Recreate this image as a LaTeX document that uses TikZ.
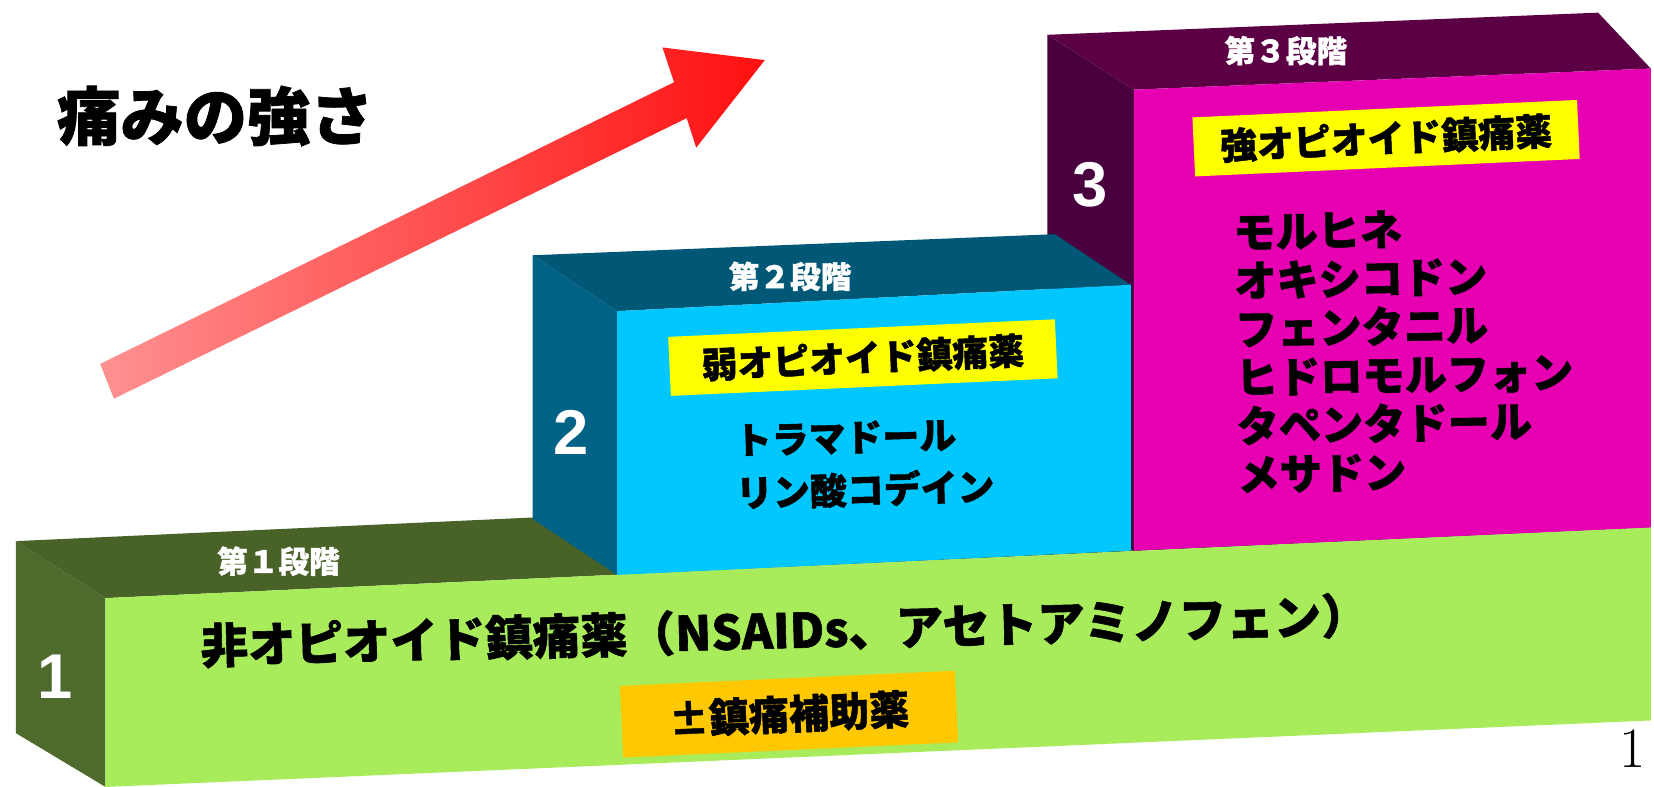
\documentclass[tikz,border=0pt]{standalone}
\usepackage{fontspec}
\newfontfamily\jp{Noto Sans CJK JP}[BoldFeatures={FakeBold=1.2}]
\newfontfamily\lsans{Liberation Sans}
\definecolor{gtop}{RGB}{72,98,40}
\definecolor{gside}{RGB}{78,106,44}
\definecolor{gfront}{RGB}{168,236,92}
\definecolor{btop}{RGB}{0,88,118}
\definecolor{bside}{RGB}{0,98,132}
\definecolor{bfront}{RGB}{0,200,255}
\definecolor{mtop}{RGB}{92,0,70}
\definecolor{mside}{RGB}{72,0,62}
\definecolor{mfront}{RGB}{230,0,178}
\definecolor{yel}{RGB}{255,255,0}
\definecolor{org}{RGB}{255,200,0}
\definecolor{arlight}{RGB}{255,145,145}
\definecolor{ardark}{RGB}{255,15,15}
\tikzset{
  toplab/.style={inner sep=0pt,text=white,font=\jp\bfseries\fontsize{29}{32}\selectfont},
  bignum/.style={inner sep=0pt,text=white,font=\lsans\bfseries\fontsize{60}{64}\selectfont},
  labbox/.style={inner sep=0pt,rotate=2.6,minimum height=56pt,font=\jp\bfseries\fontsize{34}{38}\selectfont},
  druglist/.style={inner sep=0pt,anchor=west,align=left,rotate=1.5,font=\jp\bfseries\fontsize{35}{50}\selectfont},
  druglistl/.style={inner sep=0pt,anchor=west,align=left,rotate=1,font=\jp\bfseries\fontsize{40}{46}\selectfont},
  mainlab/.style={inner sep=0pt,anchor=west,rotate=1.5,font=\jp\bfseries\fontsize{45}{48}\selectfont},
}
\begin{document}
\begin{tikzpicture}[x=1pt,y=-1pt]
\useasboundingbox (0,0) rectangle (1568,746);
\fill[white] (0,0) rectangle (1568,746);
% title
\node[inner sep=0pt,anchor=west,font=\jp\bfseries\fontsize{60}{62}\selectfont] (title) at (54,110) {痛みの強さ};
% arrow
\shade[left color=arlight,right color=ardark] (95,345) -- (639,78) -- (628,45) -- (725,57) -- (660,140) -- (651,112) -- (108,378) -- cycle;
% step 1
\fill[gside] (15,513) -- (100,567) -- (100,746) -- (15,695) -- cycle;
\fill[gtop] (15,513) -- (1480,446) -- (1565,500) -- (100,567) -- cycle;
\fill[gfront] (100,567) -- (1565,500) -- (1565,683) -- (100,746) -- cycle;
% step 3
\fill[mside] (993,33) -- (1075,85) -- (1075,522) -- (993,470) -- cycle;
\fill[mtop] (993,33) -- (1515,12) -- (1565,65) -- (1075,85) -- cycle;
\fill[mfront] (1075,85) -- (1565,65) -- (1565,500) -- (1075,522) -- cycle;
% step 2
\fill[bside] (505,242) -- (585,295) -- (585,545) -- (505,492) -- cycle;
\fill[btop] (505,242) -- (1000,222) -- (1072,270) -- (585,295) -- cycle;
\fill[bfront] (585,295) -- (1072,270) -- (1072,522) -- (585,545) -- cycle;
% top labels
\node[toplab] (t1) at (264,532) {第１段階};
\node[toplab] (t2) at (749,262) {第２段階};
\node[toplab] (t3) at (1219,48) {第３段階};
% numbers
\node[bignum] (n1) at (52,642) {1};
\node[bignum] (n2) at (541,410) {2};
\node[bignum] (n3) at (1033,175) {3};
% step 2 content
\node[labbox,fill=yel,minimum width=367pt] (y2) at (818,339) {弱オピオイド鎮痛薬};
\node[druglist] (d2) at (697,443) {トラマドール\\リン酸コデイン};
% step 3 content
\node[labbox,fill=yel,minimum width=365pt,font=\jp\bfseries\fontsize{35}{38}\selectfont] (y3) at (1314,131) {強オピオイド鎮痛薬};
\node[druglistl] (d3) at (1171,335) {モルヒネ\\オキシコドン\\フェンタニル\\ヒドロモルフォン\\タペンタドール\\メサドン};
% step 1 content
\node[mainlab] (m1) at (190,612) {非オピオイド鎮痛薬（NSAIDs、アセトアミノフェン）};
\node[labbox,fill=org,minimum width=318pt,minimum height=68pt,rotate=0,font=\jp\bfseries\fontsize{38}{40}\selectfont] (o1) at (748,677) {±鎮痛補助薬};
% page number
\node[inner sep=0pt,font=\fontsize{54}{56}\selectfont] (pg) at (1548,710) {1};
\end{tikzpicture}
\end{document}
